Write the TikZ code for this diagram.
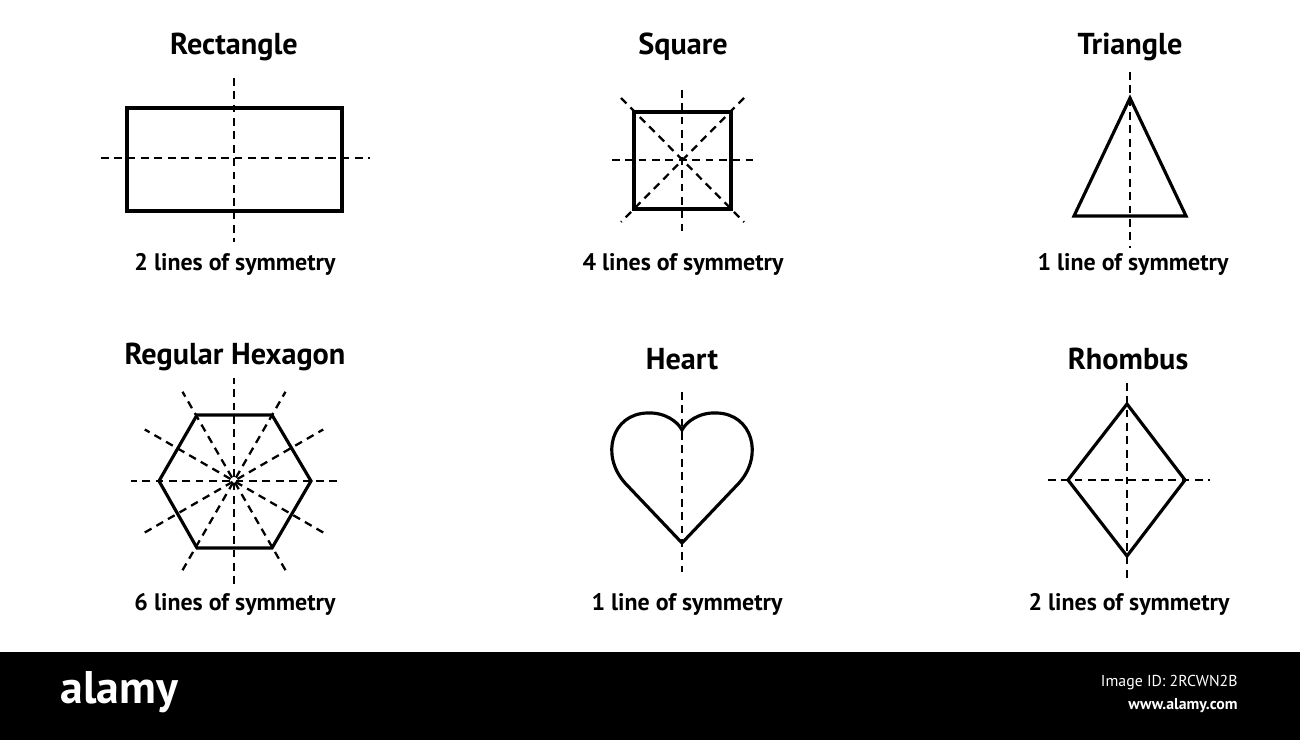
\documentclass[tikz,border=0pt]{standalone}
\usepackage{fontspec}
\setmainfont{PT Sans}
\begin{document}
\begin{tikzpicture}[x=0.01cm,y=-0.01cm,
  shp/.style={line width=0.9pt,line join=miter},
  dsh/.style={line width=0.65pt,dash pattern=on 2.2pt off 1.6pt},
  ttl/.style={font=\fontsize{8.6}{9}\selectfont\bfseries},
  lbl/.style={font=\fontsize{6.8}{7}\selectfont\bfseries}]
\useasboundingbox (0,0) rectangle (1300,740);
% Rectangle
\node[ttl] (t1) at (234,47) {Rectangle};
\draw[shp] (127,108) rectangle (342,211);
\draw[dsh] (234,78) -- (234,242);
\draw[dsh] (101,158) -- (370,158);
\node[lbl] (l1) at (235,264) {2 lines of symmetry};
% Square
\node[ttl] (t2) at (683,47) {Square};
\draw[shp] (634,112) rectangle (731,209);
\draw[dsh] (682,90) -- (682,232);
\draw[dsh] (612,160) -- (754,160);
\draw[dsh] (621,98) -- (744,222);
\draw[dsh] (744,98) -- (621,222);
\node[lbl] (l2) at (683,264) {4 lines of symmetry};
% Triangle
\node[ttl] (t3) at (1130,47) {Triangle};
\draw[shp] (1130,98) -- (1186,216) -- (1074,216) -- cycle;
\draw[dsh] (1130,72) -- (1130,248);
\node[lbl] (l3) at (1133,264) {1 line of symmetry};
% Hexagon
\node[ttl] (t4) at (235,357) {Regular Hexagon};
\draw[shp] (159,481) -- (197,415) -- (272,415) -- (311,481) -- (272,548) -- (197,548) -- cycle;
\foreach \a in {0,30,60,90,120,150}
  \draw[dsh] ({234+103*cos(\a)},{481+103*sin(\a)}) -- ({234-103*cos(\a)},{481-103*sin(\a)});
\node[lbl] (l4) at (235,604) {6 lines of symmetry};
% Heart
\node[ttl] (t5) at (682,359) {Heart};
\draw[shp] (682,543) -- (625,483) .. controls (600,455) and (612,414) .. (647,413)
  .. controls (665,412) and (678,422) .. (682,430)
  .. controls (686,422) and (699,412) .. (717,413)
  .. controls (752,414) and (764,455) .. (739,483) -- cycle;
\draw[dsh] (682,392) -- (682,572);
\node[lbl] (l5) at (687,604) {1 line of symmetry};
% Rhombus
\node[ttl] (t6) at (1128,359) {Rhombus};
\draw[shp] (1127,404) -- (1185,480) -- (1127,556) -- (1068,480) -- cycle;
\draw[dsh] (1127,383) -- (1127,578);
\draw[dsh] (1048,480) -- (1210,480);
\node[lbl] (l6) at (1129,604) {2 lines of symmetry};
% bottom bar
\fill[black] (0,652) rectangle (1300,740);
\node[white,font=\fontsize{13}{14}\selectfont\bfseries,anchor=west] (al) at (48,692) {alamy};
\node[white,font=\fontsize{4.5}{5}\selectfont,anchor=east] (id) at (1250,683) {Image ID: 2RCWN2B};
\node[white,font=\fontsize{4.5}{5}\selectfont\bfseries,anchor=east] (ww) at (1250,706) {www.alamy.com};
\end{tikzpicture}
\end{document}
